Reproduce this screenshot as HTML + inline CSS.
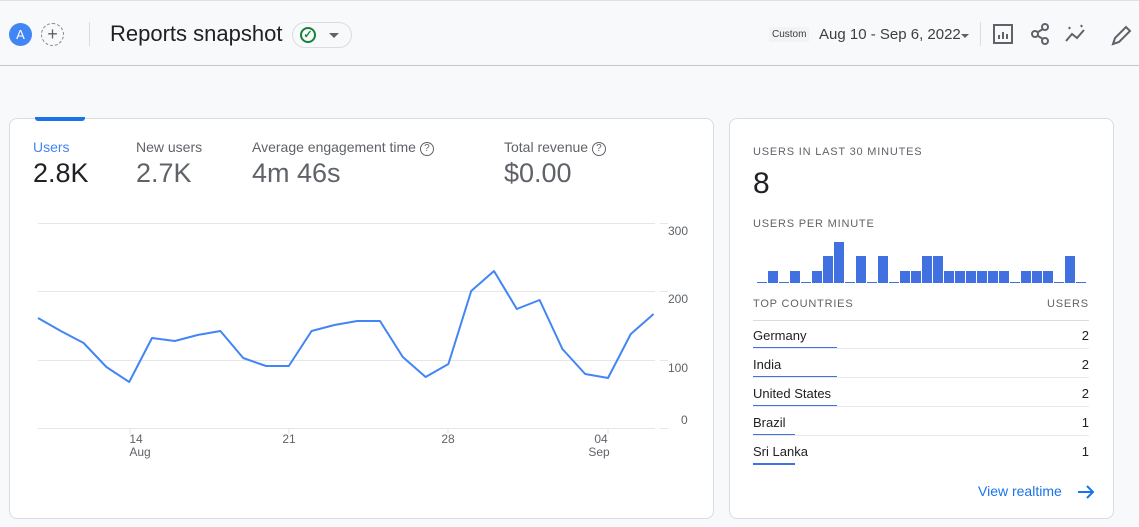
<!DOCTYPE html>
<html><head><meta charset="utf-8"><style>
*{margin:0;padding:0;box-sizing:border-box}
body{width:1139px;height:527px;background:#f8f9fa;font-family:"Liberation Sans",Arial,sans-serif;position:relative;overflow:hidden;color:#202124}
.a{position:absolute;white-space:nowrap}
.card{position:absolute;background:#fff;border:1px solid #dadce0;border-radius:8px}
.cap{font-size:11px;letter-spacing:.8px;color:#5f6368}
.row{position:absolute;left:753px;width:336px;font-size:13px;color:#202124}
</style></head><body>
<div class="a" style="left:0;top:0;width:1139px;height:66px;border-top:1px solid #e0e0e0;border-bottom:1px solid #c6c6c6;background:#f8f9fa"></div>
<div class="a" style="left:9px;top:23px;width:23px;height:23px;border-radius:50%;background:#4285f4;color:#fff;font-size:13px;text-align:center;line-height:23px">A</div>
<div class="a" style="left:41px;top:23px;width:23px;height:23px;border-radius:50%;border:1px dashed #80868b;color:#5f6368;font-size:18px;text-align:center;line-height:20px">+</div>
<div class="a" style="left:89px;top:22px;width:1px;height:24px;background:#dadce0"></div>
<div class="a" style="left:110px;top:21px;font-size:22px;color:#202124">Reports snapshot</div>
<div class="a" style="left:292px;top:22px;width:60px;height:26px;border:1px solid #dadce0;border-radius:13px"></div>
<div class="a" style="left:300px;top:27px;width:16px;height:16px;border:2px solid #188038;border-radius:50%;color:#188038;font-size:11px;text-align:center;line-height:12px;font-weight:bold">✓</div>
<div class="a" style="left:329px;top:33px;border-left:5px solid transparent;border-right:5px solid transparent;border-top:5px solid #5f6368"></div>
<div class="a" style="left:769px;top:27px;background:#f1f3f4;padding:2px 3px;font-size:10px;color:#3c4043">Custom</div>
<div class="a" style="left:819px;top:26px;font-size:15px;color:#3c4043">Aug 10 - Sep 6, 2022</div>
<div class="a" style="left:961px;top:34px;border-left:4px solid transparent;border-right:4px solid transparent;border-top:4px solid #5f6368"></div>
<div class="a" style="left:980px;top:22px;width:1px;height:24px;background:#dadce0"></div>
<svg class="a" style="left:985px;top:20px" width="154" height="30" viewBox="0 0 154 30" fill="none" stroke="#5f6368" stroke-width="2">
<rect x="9" y="5" width="18" height="18"/><path d="M14 19v-4M18 19v-7M22 19v-5"/>
<circle cx="60" cy="7" r="3"/><circle cx="50" cy="14" r="3"/><circle cx="60" cy="21" r="3"/><path d="M53 12l5-3M53 16l5 3"/>
<path d="M81 21l6-7 5 4 7-8"/><path d="M84 7l1 2M96 5l1 2"/>
<path d="M128 24l2-6 11-11 4 4-11 11z"/>
</svg>
<!-- left card -->
<div class="card" style="left:9px;top:118px;width:705px;height:401px"></div>
<div class="a" style="left:35px;top:117px;width:50px;height:4px;background:#1a73e8;border-radius:0 0 3px 3px"></div>
<div class="a" style="left:33px;top:139px;font-size:14px;color:#4285f4">Users</div>
<div class="a" style="left:33px;top:158px;font-size:27px;color:#202124">2.8K</div>
<div class="a" style="left:136px;top:139px;font-size:14px;color:#5f6368">New users</div>
<div class="a" style="left:136px;top:158px;font-size:27px;color:#5f6368">2.7K</div>
<div class="a" style="left:252px;top:139px;font-size:14px;color:#5f6368">Average engagement time <span style="display:inline-block;width:14px;height:14px;border:1.5px solid #5f6368;border-radius:50%;font-size:10px;text-align:center;line-height:11px;vertical-align:1px">?</span></div>
<div class="a" style="left:252px;top:158px;font-size:27px;color:#5f6368">4m 46s</div>
<div class="a" style="left:504px;top:139px;font-size:14px;color:#5f6368">Total revenue <span style="display:inline-block;width:14px;height:14px;border:1.5px solid #5f6368;border-radius:50%;font-size:10px;text-align:center;line-height:11px;vertical-align:1px">?</span></div>
<div class="a" style="left:504px;top:158px;font-size:27px;color:#5f6368">$0.00</div>
<svg class="a" style="left:0;top:0" width="714" height="527">
<g stroke="#e6e6e6" stroke-width="1">
<line x1="38" y1="223.5" x2="655" y2="223.5"/><line x1="38" y1="291.5" x2="655" y2="291.5"/><line x1="38" y1="360.5" x2="655" y2="360.5"/><line x1="38" y1="428.5" x2="655" y2="428.5"/>
<line x1="660" y1="223.5" x2="668" y2="223.5"/><line x1="660" y1="291.5" x2="668" y2="291.5"/><line x1="660" y1="360.5" x2="668" y2="360.5"/><line x1="660" y1="428.5" x2="668" y2="428.5"/>
<line x1="130" y1="428" x2="130" y2="434"/><line x1="289" y1="428" x2="289" y2="434"/><line x1="448" y1="428" x2="448" y2="434"/><line x1="608" y1="428" x2="608" y2="434"/>
</g>
<g font-family="Liberation Sans,sans-serif" font-size="12" fill="#5f6368">
<text x="668" y="235">300</text><text x="668" y="303">200</text><text x="668" y="372">100</text><text x="681" y="424">0</text>
<text x="136" y="443" text-anchor="middle">14</text><text x="140" y="456" text-anchor="middle">Aug</text>
<text x="289" y="443" text-anchor="middle">21</text><text x="448" y="443" text-anchor="middle">28</text>
<text x="601" y="443" text-anchor="middle">04</text><text x="599" y="456" text-anchor="middle">Sep</text>
</g>
<polyline fill="none" stroke="#4285f4" stroke-width="2" stroke-linejoin="round" points="38,318 60.8,331 83.6,343 106.4,367 129.2,382 152,338 174.8,341 197.6,335 220.4,331 243.2,358 266,366 288.8,366 311.6,331 334.4,325 357.2,321 380,321 402.8,357 425.6,377 448.4,364 471.2,291 494,271 516.8,309 539.6,300 562.4,349 585.2,374 608,378 630.8,334 653.6,314"/>
</svg>
<!-- right card -->
<div class="card" style="left:729px;top:118px;width:385px;height:401px"></div>
<div class="a cap" style="left:753px;top:146px">USERS IN LAST 30 MINUTES</div>
<div class="a" style="left:753px;top:167px;font-size:30px">8</div>
<div class="a cap" style="left:753px;top:218px">USERS PER MINUTE</div>
<svg class="a" style="left:0;top:0" width="1139" height="527" id="bars"></svg>
<div class="a cap" style="left:753px;top:298px">TOP COUNTRIES</div>
<div class="a cap" style="left:1047px;top:298px">USERS</div>
<div class="a" style="left:753px;top:320px;width:336px;height:1px;background:#dadce0"></div>
<div class="row" style="top:328px">Germany<span style="float:right">2</span></div>
<div class="a" style="left:753px;top:347px;width:84px;height:2px;background:#4170e0"></div>
<div class="a" style="left:753px;top:348px;width:336px;height:1px;background:#e8eaed"></div>
<div class="row" style="top:357px">India<span style="float:right">2</span></div>
<div class="a" style="left:753px;top:376px;width:84px;height:2px;background:#4170e0"></div>
<div class="a" style="left:753px;top:377px;width:336px;height:1px;background:#e8eaed"></div>
<div class="row" style="top:386px">United States<span style="float:right">2</span></div>
<div class="a" style="left:753px;top:405px;width:84px;height:2px;background:#4170e0"></div>
<div class="a" style="left:753px;top:406px;width:336px;height:1px;background:#e8eaed"></div>
<div class="row" style="top:415px">Brazil<span style="float:right">1</span></div>
<div class="a" style="left:753px;top:434px;width:42px;height:2px;background:#4170e0"></div>
<div class="a" style="left:753px;top:435px;width:336px;height:1px;background:#e8eaed"></div>
<div class="row" style="top:444px">Sri Lanka<span style="float:right">1</span></div>
<div class="a" style="left:753px;top:463px;width:42px;height:2px;background:#4170e0"></div>
<div class="a" style="left:978px;top:483px;font-size:14px;color:#1a73e8">View realtime</div>
<svg class="a" style="left:1077px;top:485px" width="18" height="14"><path d="M1 7h15M10 1l6 6-6 6" stroke="#1a73e8" stroke-width="2" fill="none"/></svg>
<script>
var v=[0,1,0,1,0,1,2,3,0,2,0,2,0,1,1,2,2,1,1,1,1,1,1,0,1,1,1,0,2,0],h=[1,12,27,41],s='';
for(var i=0;i<30;i++){var x=757+i*11,hh=h[v[i]];s+='<rect x="'+x+'" y="'+(283-hh)+'" width="10" height="'+hh+'" fill="#4170e0"/>';}
document.getElementById('bars').innerHTML=s;
</script>
</body></html>
